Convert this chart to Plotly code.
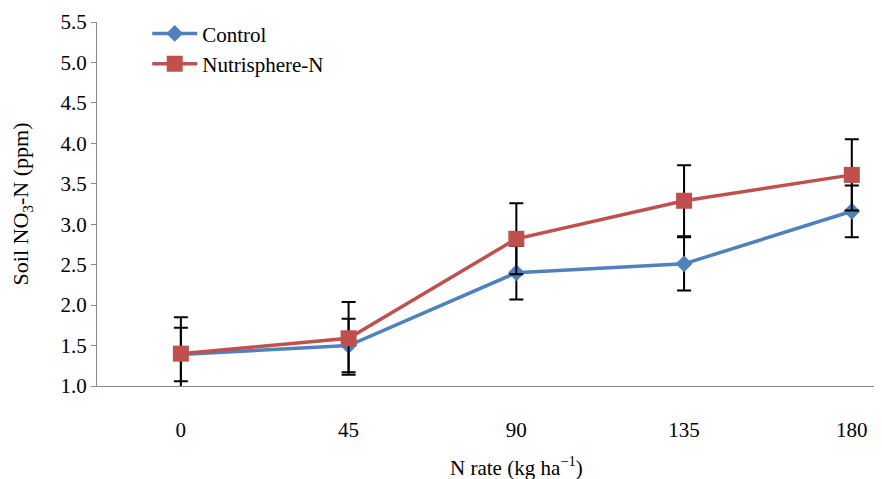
import plotly.graph_objects as go

n_rate = ["0", "45", "90", "135", "180"]
control = [1.39, 1.50, 2.40, 2.51, 3.16]
control_err = [0.33, 0.33, 0.33, 0.33, 0.32]
nutri = [1.40, 1.59, 2.82, 3.29, 3.61]
nutri_err = [0.45, 0.45, 0.44, 0.44, 0.44]

font = "Times New Roman, Liberation Serif, serif"

fig = go.Figure()
fig.add_trace(go.Scatter(
    x=n_rate, y=control, name="Control", mode="lines+markers",
    line=dict(color="#4F81BD", width=3.5),
    marker=dict(symbol="diamond", size=13, color="#4F81BD"),
    error_y=dict(type="data", array=control_err, color="black", thickness=2, width=7),
))
fig.add_trace(go.Scatter(
    x=n_rate, y=nutri, name="Nutrisphere-N", mode="lines+markers",
    line=dict(color="#C0504D", width=3.5),
    marker=dict(symbol="square", size=16, color="#C0504D"),
    error_y=dict(type="data", array=nutri_err, color="black", thickness=2, width=7),
))

# page body has an 8px margin, so the figure is offset by 8px
fig.update_layout(
    width=882, height=479,
    margin=dict(l=89, r=8, t=14, b=101, autoexpand=False),
    paper_bgcolor="white", plot_bgcolor="white",
    font=dict(family=font, size=21, color="black"),
    showlegend=True,
    legend=dict(x=0.064, y=1.024, xanchor="left", yanchor="top",
                font=dict(family=font, size=21), bgcolor="rgba(0,0,0,0)",
                itemwidth=45, tracegroupgap=0),
    xaxis=dict(
        type="category", range=[-0.5, 4.18], automargin=False,
        showline=True, linecolor="#888888", linewidth=1,
        ticks="", showgrid=False, zeroline=False,
        tickfont=dict(family=font, size=21),
        ticklabelstandoff=25,
    ),
    yaxis=dict(
        range=[1.0, 5.5], dtick=0.5, tickformat=".1f", automargin=False,
        showline=True, linecolor="#888888", linewidth=1,
        ticks="outside", ticklen=5, tickcolor="#888888",
        showgrid=False, zeroline=False,
        tickfont=dict(family=font, size=21),
        title=dict(text="Soil NO<sub>3</sub>-N (ppm)", font=dict(family=font, size=22), standoff=29),
    ),
    annotations=[dict(
        text="N rate (kg ha<sup>−1</sup>)", xref="paper", yref="paper",
        x=0.535, y=-0.22, xanchor="center", yanchor="middle", showarrow=False,
        font=dict(family=font, size=21, color="black"),
    )],
)

fig.write_html("out.html")
